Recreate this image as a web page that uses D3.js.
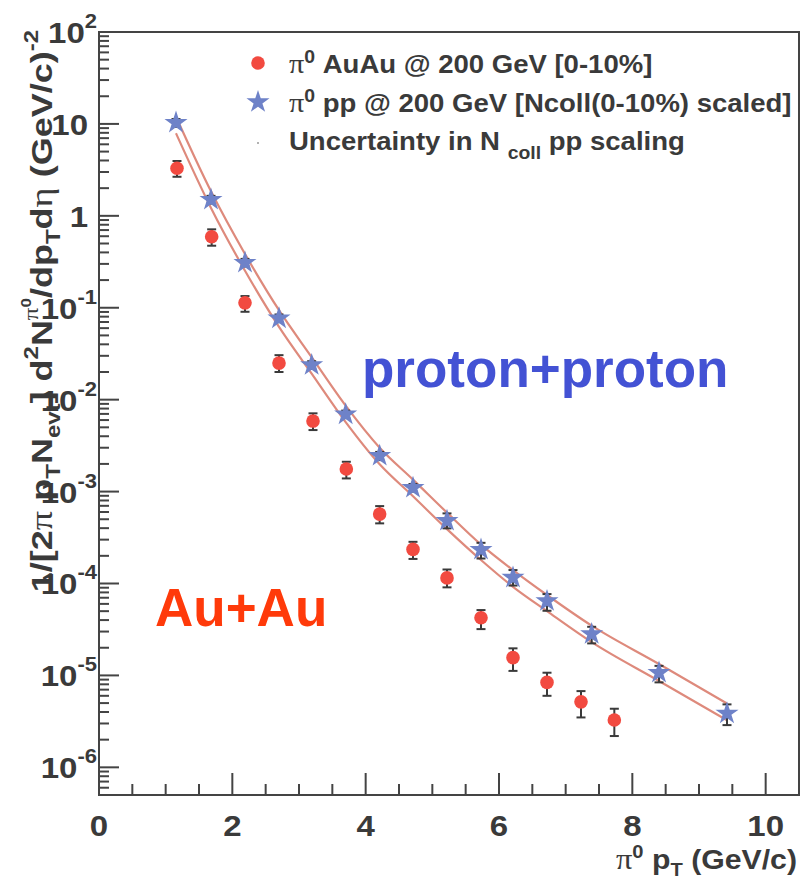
<!DOCTYPE html>
<html>
<head>
<style>
  body { margin: 0; background: #fff; }
  svg text { font-family: 'Liberation Sans', Arial, sans-serif; font-weight: bold; fill: #3a3a3a; }
</style>
</head>
<body>
<svg id="chart" width="802" height="880"></svg>
<script src="https://d3js.org/d3.v7.min.js"></script>
<script>
// AuAu 0-10% pi0 points
const auauX  = [1.17, 1.69, 2.19, 2.70, 3.21, 3.71, 4.21, 4.71, 5.22, 5.73, 6.21, 6.72, 7.23, 7.73];
const auauY  = [3.29, 0.593, 0.113, 0.025, 5.85e-3, 1.76e-3, 5.69e-4, 2.35e-4, 1.15e-4, 4.24e-5, 1.56e-5, 8.39e-6, 5.16e-6, 3.27e-6];
const auauHi = [3.95, 0.713, 0.134, 0.0305, 7.1e-3, 2.11e-3, 6.95e-4, 2.84e-4, 1.42e-4, 5.14e-5, 1.97e-5, 1.07e-5, 6.75e-6, 4.34e-6];
const auauLo = [2.66, 0.473, 0.0904, 0.020, 4.67e-3, 1.39e-3, 4.51e-4, 1.85e-4, 9.08e-5, 3.19e-5, 1.12e-5, 6.0e-6, 3.49e-6, 2.19e-6];

// pp scaled by Ncoll
const ppX  = [1.155, 1.68, 2.19, 2.70, 3.19, 3.70, 4.21, 4.71, 5.22, 5.73, 6.21, 6.72, 7.39, 8.40, 9.42];
const ppY  = [10.3, 1.50, 0.309, 0.0767, 0.0238, 6.92e-3, 2.45e-3, 1.10e-3, 4.81e-4, 2.33e-4, 1.16e-4, 6.44e-5, 2.82e-5, 1.07e-5, 3.86e-6];
const ppHi = [11.3, 1.65, 0.340, 0.0845, 0.0262, 7.6e-3, 2.7e-3, 1.21e-3, 5.79e-4, 2.77e-4, 1.40e-4, 7.67e-5, 3.38e-5, 1.27e-5, 4.84e-6];
const ppLo = [9.3, 1.36, 0.281, 0.0697, 0.0216, 6.3e-3, 2.2e-3, 1.0e-3, 3.98e-4, 1.87e-4, 9.5e-5, 5.05e-5, 2.23e-5, 8.4e-6, 2.88e-6];

// Ncoll scaling uncertainty band
const bandX  = [1.155, 1.68, 2.19, 2.70, 3.19, 3.70, 4.21, 4.71, 5.22, 5.73, 6.21, 6.72, 7.39, 8.40, 9.42];
const bandHi = [12.0, 1.85, 0.385, 0.094, 0.029, 8.6e-3, 3.0e-3, 1.35e-3, 5.9e-4, 2.65e-4, 1.40e-4, 7.5e-5, 3.48e-5, 1.33e-5, 4.95e-6];
const bandLo = [7.9, 1.22, 0.253, 0.062, 0.0192, 5.7e-3, 1.98e-3, 8.9e-4, 3.9e-4, 1.80e-4, 9.2e-5, 5.0e-5, 2.3e-5, 8.7e-6, 3.25e-6];

const xTickLabels = [0, 2, 4, 6, 8, 10];
const yDecades = [2, 1, 0, -1, -2, -3, -4, -5, -6];

const svg = d3.select('#chart');
const x = d3.scaleLinear().domain([0, 10.5]).range([99, 799]);
const y = d3.scaleLog().domain([5e-7, 100]).range([795, 32]);

function translate(a, b) { return 'translate(' + a + ',' + b + ')'; }

// write text made of pieces: [text, shift(px, +down), size(px), serif?]
function rich(sel, parts) {
  let cur = 0;
  parts.forEach(p => {
    const t = sel.append('tspan').text(p[0]).attr('dy', p[1] - cur).attr('font-size', p[2]);
    if (p[3]) t.style('font-family', "'Liberation Serif', 'DejaVu Serif', serif").style('font-weight', 'normal');
    cur = p[1];
  });
  return sel;
}

// band lines
const line = d3.line().x(d => x(d[0])).y(d => y(d[1])).curve(d3.curveMonotoneX);
[bandHi, bandLo].forEach(b => {
  svg.append('path')
    .datum(bandX.map((v, i) => [v, b[i]]))
    .attr('d', line)
    .attr('fill', 'none')
    .attr('stroke', '#de8a7c')
    .attr('stroke-width', 2.2);
});

// error bars
function errBars(xs, lo, hi) {
  const g = svg.append('g').attr('stroke', '#3a3a3a').attr('stroke-width', 2);
  xs.forEach((v, i) => {
    const cx = x(v);
    g.append('line').attr('x1', cx).attr('x2', cx).attr('y1', y(lo[i])).attr('y2', y(hi[i]));
    [lo[i], hi[i]].forEach(e => {
      g.append('line').attr('x1', cx - 4.5).attr('x2', cx + 4.5).attr('y1', y(e)).attr('y2', y(e));
    });
  });
}
errBars(auauX, auauLo, auauHi);
errBars(ppX, ppLo, ppHi);

svg.append('g').selectAll('circle')
  .data(auauX.map((v, i) => [v, auauY[i]]))
  .join('circle')
    .attr('cx', d => x(d[0]))
    .attr('cy', d => y(d[1]))
    .attr('r', 6.8)
    .attr('fill', '#f24a40');

const star = d3.symbol().type(d3.symbolStar).size(165);
svg.append('g').selectAll('path')
  .data(ppX.map((v, i) => [v, ppY[i]]))
  .join('path')
    .attr('d', star)
    .attr('transform', d => translate(x(d[0]), y(d[1])))
    .attr('fill', '#6e82c8');

// frame
svg.append('rect')
  .attr('x', 99).attr('y', 32).attr('width', 700).attr('height', 763)
  .attr('fill', 'none').attr('stroke', '#444').attr('stroke-width', 2);

// x ticks (inward)
const ax = svg.append('g').attr('stroke', '#444').attr('stroke-width', 2);
d3.range(0, 10.5001, 0.5).forEach(v => {
  const len = (Math.round(v * 2) % 4 === 0) ? 22 : 11;
  ax.append('line').attr('x1', x(v)).attr('x2', x(v)).attr('y1', 795).attr('y2', 795 - len);
});
// y ticks (inward)
yDecades.forEach(d => {
  ax.append('line').attr('x1', 99).attr('x2', 119).attr('y1', y(Math.pow(10, d))).attr('y2', y(Math.pow(10, d)));
});
d3.range(-7, 2).forEach(d => {
  for (let k = 2; k <= 9; k++) {
    const v = k * Math.pow(10, d);
    if (v < 5e-7 || v > 100) continue;
    ax.append('line').attr('x1', 99).attr('x2', 109).attr('y1', y(v)).attr('y2', y(v));
  }
});

// tick labels (ROOT's font runs wider than Arial, so stretch a bit)
svg.append('g').selectAll('text')
  .data(xTickLabels)
  .join('text')
    .attr('transform', d => translate(x(d), 836) + ' scale(1.1,1)')
    .attr('text-anchor', 'middle')
    .attr('font-size', 30)
    .text(d => d);

yDecades.forEach(d => {
  const t = svg.append('text')
    .attr('transform', translate(d === 1 || d === 0 ? 88 : 97, y(Math.pow(10, d)) + 11) + ' scale(1.1,1)')
    .attr('text-anchor', 'end')
    .attr('font-size', 30);
  if (d === 1) t.text('10');
  else if (d === 0) t.text('1');
  else rich(t, [['10', 0, 30], [String(d), -15, 20], ['', 0, 30]]);
});

// axis titles
rich(svg.append('text').attr('transform', translate(797, 869) + ' scale(1.12,1)').attr('text-anchor', 'end'),
  [['\u03c0', 0, 29, true], ['0', -11, 18], [' p', 0, 27], ['T', 7, 18], [' (GeV/c)', 0, 27]]);

const yt = svg.append('text')
  .attr('transform', translate(52, 30) + ' rotate(-90) scale(1.2,1)')
  .attr('text-anchor', 'end');
rich(yt, [
  ['1/[2', 0, 30], ['\u03c0', 0, 32, true], [' p', 0, 30], ['T', 8, 20], ['N', 0, 30], ['evt', 8, 20],
  [']  d', 0, 30], ['2', -14, 20], ['N', 0, 30], ['\u03c0', -14, 21, true], ['0', -21, 14],
  ['/dp', 0, 30], ['T', 8, 20], ['d', 0, 30], ['\u03b7', 0, 32, true], [' (GeV/c)', 0, 30], ['-2', -14, 20]
]);

// legend
svg.append('circle').attr('cx', 258).attr('cy', 63).attr('r', 6.8).attr('fill', '#f24a40');
svg.append('path').attr('d', star).attr('transform', translate(258, 102)).attr('fill', '#6e82c8');
svg.append('circle').attr('cx', 258).attr('cy', 143).attr('r', 1).attr('fill', '#999');

rich(svg.append('text').attr('transform', translate(289, 73) + ' scale(1.08,1)'),
  [['\u03c0', 0, 28, true], ['0', -10, 18], [' AuAu @ 200 GeV [0-10%]', 0, 25.5]]);
rich(svg.append('text').attr('transform', translate(289, 112) + ' scale(1.08,1)'),
  [['\u03c0', 0, 28, true], ['0', -10, 18], [' pp @ 200 GeV [Ncoll(0-10%) scaled]', 0, 25.5]]);
rich(svg.append('text').attr('transform', translate(289, 150) + ' scale(1.08,1)'),
  [['Uncertainty in N ', 0, 25.5], ['coll', 9, 18], [' pp scaling', 0, 25.5]]);

// big labels
svg.append('text').attr('x', 362).attr('y', 387).attr('font-size', 53)
  .style('fill', '#4352d4').text('proton+proton');
svg.append('text').attr('x', 155).attr('y', 626).attr('font-size', 53)
  .style('fill', '#ff3a0a').text('Au+Au');
</script>
</body>
</html>
